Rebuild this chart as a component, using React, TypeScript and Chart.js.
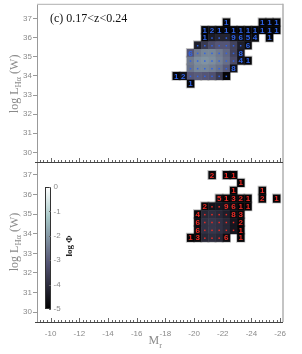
import React, { useEffect, useRef } from "react";
import { Chart, registerables } from "chart.js";

Chart.register(...registerables);

// ---------- axes ----------
const xTickValues = [-10, -12, -14, -16, -18, -20, -22, -24, -26];
const yTickValues = [30, 31, 32, 33, 34, 35, 36, 37];
const colorbarTickValues = [0, -1, -2, -3, -4, -5];
const xMin = -26.2;
const xMax = -9.05;
const yMin = 29.5;
const yMax = 37.66;
const binWidthM = 0.5;
const binHeightL = 0.4;
const titleText = "(c) 0.17<z<0.24";

// ---------- top panel: cells (row centre log L, cell centre M_r, log Phi, count label) ----------
const topRowL = [36.8, 36.4, 36.0, 35.6, 35.2, 34.8, 34.4, 34.0, 33.6];
const topRowM = [
  [-22.25, -24.75, -25.25, -25.75],
  [-20.75, -21.25, -21.75, -22.25, -22.75, -23.25, -23.75, -24.25, -24.75, -25.25, -25.75],
  [-20.75, -21.25, -21.75, -22.25, -22.75, -23.25, -23.75, -24.25, -25.25],
  [-20.25, -20.75, -21.25, -21.75, -22.25, -22.75, -23.25, -23.75],
  [-19.75, -20.25, -20.75, -21.25, -21.75, -22.25, -22.75, -23.25],
  [-19.75, -20.25, -20.75, -21.25, -21.75, -22.25, -22.75, -23.25, -23.75],
  [-19.75, -20.25, -20.75, -21.25, -21.75, -22.25, -22.75],
  [-18.75, -19.25, -19.75, -20.25, -20.75, -21.25, -21.75, -22.25],
  [-19.75],
];
const topRowLogPhi = [
  [-4.9, -4.9, -4.9, -4.9],
  [-4.9, -4.75, -4.9, -4.9, -4.9, -4.9, -4.9, -4.9, -4.9, -4.9, -4.9],
  [-4.9, -4.4, -4.2, -4.2, -4.6, -4.7, -4.75, -4.8, -4.9],
  [-4.3, -3.7, -3.3, -3.1, -3.1, -3.5, -4.3, -4.8],
  [-3.1, -2.5, -2.3, -2.3, -2.5, -2.8, -3.5, -4.5],
  [-2.5, -2.2, -2.1, -2.2, -2.4, -2.7, -3.3, -4.6, -4.9],
  [-2.6, -2.3, -2.3, -2.4, -2.6, -3.0, -4.6],
  [-4.9, -4.6, -3.1, -3.0, -3.1, -3.2, -3.7, -4.9],
  [-4.9],
];
const topRowCount = [
  ["1", "1", "1", "1"],
  ["1", "2", "1", "1", "1", "1", "1", "1", "1", "1", "1"],
  ["1", ".", ".", ".", "9", "6", "5", "4", "1"],
  [".", ".", ".", ".", ".", ".", ".", "6"],
  ["6", ".", ".", ".", ".", ".", ".", "8"],
  [".", ".", ".", ".", ".", ".", ".", "4", "1"],
  [".", ".", ".", ".", ".", ".", "8"],
  ["1", "2", ".", ".", ".", ".", ".", "."],
  ["1"],
];

// ---------- bottom panel ----------
const bottomRowL = [37.0, 36.6, 36.2, 35.8, 35.4, 35.0, 34.6, 34.2, 33.8];
const bottomRowM = [
  [-21.25, -22.25, -22.75],
  [-23.25],
  [-22.75, -24.75],
  [-21.75, -22.25, -22.75, -23.25, -23.75, -24.75, -25.75],
  [-20.75, -21.25, -21.75, -22.25, -22.75, -23.25, -23.75],
  [-20.25, -20.75, -21.25, -21.75, -22.25, -22.75, -23.25],
  [-20.25, -20.75, -21.25, -21.75, -22.25, -22.75, -23.25],
  [-20.25, -20.75, -21.25, -21.75, -22.25, -22.75, -23.25],
  [-19.75, -20.25, -20.75, -21.25, -21.75, -22.25, -23.25],
];
const bottomRowLogPhi = [
  [-4.8, -4.9, -4.9],
  [-4.9],
  [-4.9, -4.9],
  [-4.7, -4.9, -4.8, -4.85, -4.9, -4.85, -4.9],
  [-4.85, -4.6, -4.5, -4.6, -4.7, -4.9, -4.9],
  [-4.8, -4.1, -4.0, -4.1, -4.3, -4.7, -4.8],
  [-4.7, -3.9, -3.8, -3.9, -4.1, -4.5, -4.85],
  [-4.7, -3.9, -3.8, -3.9, -4.1, -4.5, -4.9],
  [-4.9, -4.8, -4.1, -4.0, -4.1, -4.7, -4.9],
];
const bottomRowCount = [
  ["2", "1", "1"],
  ["1"],
  ["1", "1"],
  ["5", "1", "3", "2", "1", "2", "1"],
  ["2", ".", ".", "9", "6", "1", "1"],
  ["4", ".", ".", ".", ".", "8", "3"],
  ["6", ".", ".", ".", ".", ".", "2"],
  ["6", ".", ".", ".", ".", ".", "1"],
  ["1", "3", ".", ".", ".", "6", "1"],
];

type Cell = { x: number; y: number; v: number; label: string };

function buildCells(rowL: number[], rowM: number[][], rowV: number[][], rowC: string[][]): Cell[] {
  const out: Cell[] = [];
  rowL.forEach((L, i) => {
    rowM[i].forEach((M, j) => {
      out.push({ x: M, y: L, v: rowV[i][j], label: rowC[i][j] });
    });
  });
  return out;
}

// MATLAB "bone" colormap
function bone(t: number): [number, number, number] {
  const c = (v: number) => Math.max(0, Math.min(1, v));
  t = c(t);
  const hr = c(t / 0.375);
  const hg = c((t - 0.375) / 0.375);
  const hb = c((t - 0.75) / 0.25);
  return [(7 * t + hb) / 8, (7 * t + hg) / 8, (7 * t + hr) / 8];
}
function boneCss(logPhi: number): string {
  const [r, g, b] = bone((logPhi + 5) / 5);
  return `rgb(${Math.round(r * 255)},${Math.round(g * 255)},${Math.round(b * 255)})`;
}

const SANS = "'Liberation Sans', Arial, sans-serif";
const SERIF = "'Liberation Serif', 'Times New Roman', serif";

function drawRichText(
  ctx: CanvasRenderingContext2D,
  parts: { t: string; font: string; dy: number }[],
  x0: number,
  y0: number,
  centered: boolean
) {
  let total = 0;
  parts.forEach((p) => {
    ctx.font = p.font;
    total += ctx.measureText(p.t).width;
  });
  let x = centered ? x0 - total / 2 : x0;
  ctx.textAlign = "left";
  ctx.textBaseline = "alphabetic";
  parts.forEach((p) => {
    ctx.font = p.font;
    ctx.fillText(p.t, x, y0 + p.dy);
    x += ctx.measureText(p.t).width;
  });
}

function makeConfig(isTop: boolean): any {
  const cells = isTop
    ? buildCells(topRowL, topRowM, topRowLogPhi, topRowCount)
    : buildCells(bottomRowL, bottomRowM, bottomRowLogPhi, bottomRowCount);
  const labelColor = isTop ? "#2f63e6" : "#ee2b24";

  const heatmap = {
    id: "heatmap",
    afterDatasetsDraw(chart: any) {
      const ctx = chart.ctx as CanvasRenderingContext2D;
      const xs = chart.scales.x;
      const ys = chart.scales.y;
      const data = chart.data.datasets[0].data as Cell[];
      const rect = (d: Cell) => {
        const xa = xs.getPixelForValue(d.x - binWidthM / 2);
        const xb = xs.getPixelForValue(d.x + binWidthM / 2);
        const ya = ys.getPixelForValue(d.y - binHeightL / 2);
        const yb = ys.getPixelForValue(d.y + binHeightL / 2);
        return { x: Math.min(xa, xb), y: Math.min(ya, yb), w: Math.abs(xb - xa), h: Math.abs(yb - ya) };
      };
      ctx.save();
      // soft halo around the block
      ctx.fillStyle = "rgba(140,140,140,0.55)";
      data.forEach((d) => {
        const r = rect(d);
        ctx.fillRect(r.x - 1, r.y - 1, r.w + 2, r.h + 2);
      });
      data.forEach((d) => {
        const r = rect(d);
        ctx.fillStyle = boneCss(d.v);
        ctx.fillRect(r.x, r.y, r.w + 0.3, r.h + 0.3);
      });
      ctx.fillStyle = labelColor;
      ctx.font = `bold 8px ${SANS}`;
      ctx.textAlign = "center";
      ctx.textBaseline = "middle";
      data.forEach((d) => {
        const r = rect(d);
        const cx = r.x + r.w / 2;
        const cy = r.y + r.h / 2;
        if (d.label === ".") {
          ctx.fillRect(cx - 0.75, cy - 0.25, 1.5, 1.5);
        } else {
          ctx.fillText(d.label, cx, cy + 0.5);
        }
      });
      ctx.restore();
    },
    afterDraw(chart: any) {
      const ctx = chart.ctx as CanvasRenderingContext2D;
      const a = chart.chartArea;
      const xs = chart.scales.x;
      ctx.save();
      // frame
      ctx.strokeStyle = "#c4c4c4";
      ctx.lineWidth = 2;
      ctx.beginPath();
      ctx.moveTo(a.right, a.top - (isTop ? 2 : 0));
      ctx.lineTo(a.right, a.bottom);
      ctx.stroke();
      if (isTop) {
        ctx.strokeStyle = "#b0b0b0";
        ctx.lineWidth = 1;
        ctx.beginPath();
        ctx.moveTo(a.left, a.top - 1.5);
        ctx.lineTo(a.right, a.top - 1.5);
        ctx.stroke();
      }
      ctx.strokeStyle = "#444";
      ctx.lineWidth = 1.2;
      ctx.beginPath();
      ctx.moveTo(a.left - 2, a.bottom + 0.5);
      ctx.lineTo(a.right, a.bottom + 0.5);
      ctx.stroke();
      // inward x ticks (major every 2 mag, minor every 0.25 mag)
      ctx.strokeStyle = "#666";
      ctx.lineWidth = 1;
      const i0 = Math.ceil(xMin * 4);
      const i1 = Math.floor(xMax * 4);
      for (let i = i0; i <= i1; i++) {
        const v = i / 4;
        const px = Math.round(xs.getPixelForValue(v)) + 0.5;
        const len = i % 8 === 0 ? 4 : 2;
        ctx.beginPath();
        ctx.moveTo(px, a.bottom);
        ctx.lineTo(px, a.bottom - len);
        ctx.stroke();
      }
      // y axis title
      const cy = (a.top + a.bottom) / 2;
      ctx.save();
      ctx.translate(17.5, cy);
      ctx.rotate(-Math.PI / 2);
      ctx.fillStyle = "#8a8a8a";
      drawRichText(
        ctx,
        [
          { t: "log L", font: `12px ${SERIF}`, dy: 0 },
          { t: "Hα", font: `8.5px ${SERIF}`, dy: 3.5 },
          { t: " (W)", font: `12px ${SERIF}`, dy: 0 },
        ],
        0,
        0,
        true
      );
      ctx.restore();

      if (isTop) {
        ctx.fillStyle = "#111";
        ctx.font = `12px ${SERIF}`;
        ctx.textAlign = "left";
        ctx.textBaseline = "middle";
        ctx.fillText(titleText, a.left + 13, a.top + 13);
      } else {
        // x axis title
        ctx.fillStyle = "#8a8a8a";
        drawRichText(
          ctx,
          [
            { t: "M", font: `12px ${SERIF}`, dy: 0 },
            { t: "r", font: `8.5px ${SERIF}`, dy: 4 },
          ],
          xs.getPixelForValue(-17.3),
          344,
          true
        );
        // colorbar
        const bx = a.left + 8;
        const bw = 6;
        const bt = a.top + 25;
        const bb = a.top + 147;
        const grad = ctx.createLinearGradient(0, bt, 0, bb);
        for (let k = 0; k <= 20; k++) {
          const t = k / 20;
          grad.addColorStop(t, boneCss(-5 * t));
        }
        ctx.fillStyle = grad;
        ctx.fillRect(bx, bt, bw, bb - bt);
        ctx.strokeStyle = "#333";
        ctx.lineWidth = 1;
        ctx.strokeRect(bx + 0.5, bt + 0.5, bw - 1, bb - bt - 1);
        ctx.font = `8px ${SANS}`;
        ctx.fillStyle = "#8a8a8a";
        ctx.textAlign = "left";
        ctx.textBaseline = "middle";
        colorbarTickValues.forEach((v) => {
          const py = bt + ((0 - v) / 5) * (bb - bt);
          ctx.strokeStyle = "#666";
          ctx.beginPath();
          ctx.moveTo(bx + bw - 2, Math.round(py) + 0.5);
          ctx.lineTo(bx + bw, Math.round(py) + 0.5);
          ctx.stroke();
          ctx.fillText(String(v), bx + bw + 2.5, py);
        });
        ctx.save();
        ctx.translate(bx + 27, (bt + bb) / 2 - 2);
        ctx.rotate(-Math.PI / 2);
        ctx.fillStyle = "#222";
        ctx.font = `bold 9px ${SERIF}`;
        ctx.textAlign = "center";
        ctx.textBaseline = "alphabetic";
        ctx.fillText("log Φ", 0, 0);
        ctx.restore();
      }
      ctx.restore();
    },
  };

  return {
    type: "scatter",
    data: {
      datasets: [{ data: cells, pointRadius: 0, pointHoverRadius: 0 }],
    },
    options: {
      responsive: false,
      maintainAspectRatio: false,
      animation: false,
      events: [],
      layout: {
        padding: { top: isTop ? 2 : 162, bottom: isTop ? 192 : 0, left: 0, right: 19 },
      },
      plugins: { legend: { display: false }, tooltip: { enabled: false } },
      scales: {
        x: {
          type: "linear",
          min: xMin,
          max: xMax,
          reverse: true,
          display: !isTop,
          afterBuildTicks: (s: any) => {
            s.ticks = xTickValues.map((v) => ({ value: v }));
          },
          afterFit: (s: any) => {
            s.height = isTop ? 0 : 32;
          },
          grid: { display: false, drawTicks: false },
          border: { display: false },
          ticks: {
            color: "#8a8a8a",
            font: { family: SANS, size: 8 },
            padding: 7,
            maxRotation: 0,
            autoSkip: false,
            callback: (v: any) => String(v),
          },
        },
        y: {
          type: "linear",
          min: yMin,
          max: yMax,
          afterBuildTicks: (s: any) => {
            s.ticks = yTickValues.map((v) => ({ value: v }));
          },
          afterFit: (s: any) => {
            s.width = 37;
          },
          grid: { display: true, drawOnChartArea: false, drawTicks: true, tickLength: 4, color: "#999" },
          border: { display: true, color: "#999" },
          ticks: {
            color: "#8a8a8a",
            font: { family: SANS, size: 8 },
            padding: 1,
            autoSkip: false,
            callback: (v: any) => String(v),
          },
        },
      },
    },
    plugins: [heatmap],
  };
}

export default function App() {
  const topRef = useRef<HTMLCanvasElement>(null);
  const bottomRef = useRef<HTMLCanvasElement>(null);
  useEffect(() => {
    const bottom = new Chart(bottomRef.current as HTMLCanvasElement, makeConfig(false));
    const top = new Chart(topRef.current as HTMLCanvasElement, makeConfig(true));
    return () => {
      top.destroy();
      bottom.destroy();
    };
  }, []);
  return (
    <div style={{ position: "fixed", left: 0, top: 0, width: 302, height: 354, background: "#fff" }}>
      <canvas ref={bottomRef} width={302} height={354} style={{ position: "absolute", left: 0, top: 0 }} />
      <canvas ref={topRef} width={302} height={354} style={{ position: "absolute", left: 0, top: 0 }} />
    </div>
  );
}
